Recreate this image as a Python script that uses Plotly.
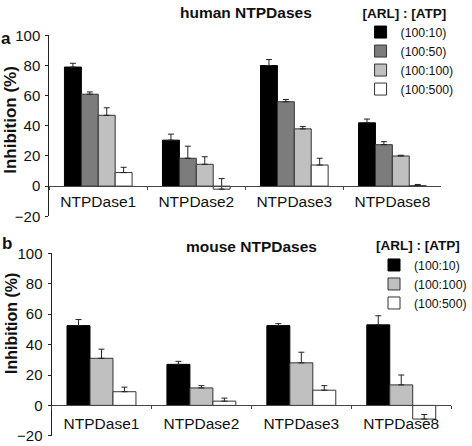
import plotly.graph_objects as go

W, H = 472, 446

categories = ["NTPDase1", "NTPDase2", "NTPDase3", "NTPDase8"]

# Panel a: human NTPDases
human_names = ["(100:10)", "(100:50)", "(100:100)", "(100:500)"]
human_vals = [
    [79, 30.5, 80, 42],
    [61, 18.5, 56, 27.5],
    [47, 14.5, 38, 20],
    [9, -2, 14, 0.3],
]
human_err = [
    [2.5, 4, 4, 2.5],
    [1.5, 8, 1.5, 2],
    [5, 5, 1.5, 0.5],
    [3.5, 7, 4.5, 0.8],
]
human_colors = ["#000000", "#7c7c7c", "#c0c0c0", "#ffffff"]

# Panel b: mouse NTPDases
mouse_names = ["(100:10)", "(100:100)", "(100:500)"]
mouse_vals = [
    [52.5, 27, 52.5, 53],
    [31, 11.5, 28, 13.5],
    [9, 2.8, 10, -9],
]
mouse_err = [
    [4, 2, 1.3, 6],
    [6, 1.5, 7, 6.5],
    [3, 2, 3, 3],
]
mouse_colors = ["#000000", "#c0c0c0", "#ffffff"]

yticks = [-20, 0, 20, 40, 60, 80, 100]

FONT = "Liberation Sans, Arial, sans-serif"


def px_x(p):
    return p / W


def px_y(p):
    return 1 - p / H


fig = go.Figure()

for name, vals, err, col in zip(human_names, human_vals, human_err, human_colors):
    fig.add_trace(go.Bar(
        x=categories, y=vals, name=name, xaxis="x", yaxis="y", legend="legend",
        marker=dict(color=col, line=dict(color="#333333" if col != "#000000" else "#000000", width=1)),
        error_y=dict(type="data", symmetric=False, array=err, arrayminus=[0] * len(err),
                     color="#222222", thickness=1, width=3),
    ))

for name, vals, err, col in zip(mouse_names, mouse_vals, mouse_err, mouse_colors):
    fig.add_trace(go.Bar(
        x=categories, y=vals, name=name, xaxis="x2", yaxis="y2", legend="legend2",
        marker=dict(color=col, line=dict(color="#333333" if col != "#000000" else "#000000", width=1)),
        error_y=dict(type="data", symmetric=False, array=err, arrayminus=[0] * len(err),
                     color="#222222", thickness=1, width=3),
    ))

# domains (pixel measurements)
a_top, a_bot = 31.7, 214.2
b_top, b_bot = 251.7, 435.7
a_dom = [px_y(a_bot), px_y(a_top)]
b_dom = [px_y(b_bot), px_y(b_top)]
a_zero = a_dom[0] + (a_dom[1] - a_dom[0]) * (20 / 120)
b_zero = b_dom[0] + (b_dom[1] - b_dom[0]) * (20 / 120)

xcommon = dict(
    showline=True, linecolor="#444444", linewidth=1, ticks="outside", ticklen=3,
    tickcolor="#444444", tickson="boundaries", showgrid=False, zeroline=False,
    tickfont=dict(family=FONT, size=15.5, color="#111111"),
    anchor="free", automargin=False,
)
ycommon = dict(
    range=[-20, 100], tickvals=yticks, showline=True, linecolor="#222222", linewidth=1,
    ticks="outside", ticklen=3, tickcolor="#222222", showgrid=False, zeroline=False,
    tickfont=dict(family=FONT, size=15, color="#111111"), ticklabelstandoff=2,
    automargin=False,
)

legend_common = dict(
    xanchor="left", yanchor="top",
    bgcolor="rgba(0,0,0,0)", borderwidth=0, tracegroupgap=0,
    font=dict(family=FONT, size=12.3, color="#111111"),
    title=dict(text="<b>[ARL] : [ATP]</b>", side="top",
               font=dict(family=FONT, size=13.5, color="#111111")),
    itemclick=False,
)

fig.update_layout(
    width=W, height=H,
    margin=dict(l=0, r=0, t=0, b=0),
    paper_bgcolor="white", plot_bgcolor="rgba(0,0,0,0)",
    barmode="group", bargap=0.31, bargroupgap=0,
    xaxis=dict(domain=[px_x(50), px_x(448)], position=a_zero, ticklabelstandoff=1, **xcommon),
    yaxis=dict(domain=a_dom, anchor="x", **ycommon),
    xaxis2=dict(domain=[px_x(52.3), px_x(458)], position=b_zero, ticklabelstandoff=4, **xcommon),
    yaxis2=dict(domain=b_dom, anchor="x2", **ycommon),
    legend=dict(x=px_x(366), y=px_y(-4.5), **legend_common),
    legend2=dict(x=px_x(380), y=px_y(231), **legend_common),
    showlegend=True,
)

annots = [
    dict(text="<b>human NTPDases</b>", x=px_x(250), y=px_y(9), size=15.5),
    dict(text="<b>mouse NTPDases</b>", x=px_x(255), y=px_y(245), size=15.5),
    dict(text="<b>a</b>", x=px_x(6), y=px_y(35), size=17),
    dict(text="<b>b</b>", x=px_x(7), y=px_y(242), size=17),
]
for a in annots:
    fig.add_annotation(text=a["text"], x=a["x"], y=a["y"], xref="paper", yref="paper",
                       xanchor="center", yanchor="middle", showarrow=False,
                       font=dict(family=FONT, size=a["size"], color="#111111"))

fig.add_annotation(text="<b>Inhibition (%)</b>", x=px_x(11), y=px_y(117), xref="paper", yref="paper",
                   textangle=-90, showarrow=False, xanchor="center", yanchor="middle",
                   font=dict(family=FONT, size=17, color="#111111"))
fig.add_annotation(text="<b>Inhibition (%)</b>", x=px_x(11), y=px_y(322), xref="paper", yref="paper",
                   textangle=-90, showarrow=False, xanchor="center", yanchor="middle",
                   font=dict(family=FONT, size=16, color="#111111"))

fig.write_html("out.html", config={"displayModeBar": False},
               post_script="document.body.style.margin='0px';")
